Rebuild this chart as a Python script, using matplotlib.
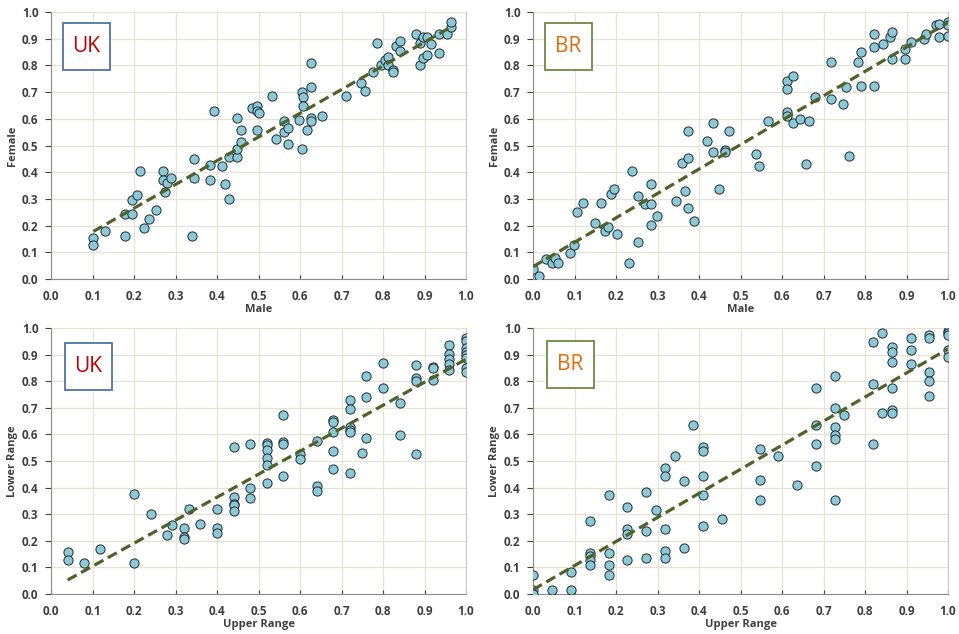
import matplotlib.pyplot as plt
from matplotlib.patches import Rectangle
import numpy as np

# UK: Female vs Male
uk_male = [0.102, 0.102, 0.131, 0.178, 0.179, 0.196, 0.196, 0.206, 0.214, 0.224,
           0.235, 0.252, 0.271, 0.271, 0.280, 0.274, 0.290, 0.340, 0.345, 0.345,
           0.383, 0.383, 0.392, 0.411, 0.420, 0.430, 0.430, 0.448, 0.448, 0.448,
           0.458, 0.458, 0.484, 0.496, 0.496, 0.500, 0.496, 0.533, 0.542, 0.561,
           0.561, 0.570, 0.570, 0.598, 0.604, 0.608, 0.608, 0.604, 0.617, 0.627,
           0.627, 0.627, 0.627, 0.654, 0.711, 0.748, 0.757, 0.776, 0.786, 0.794,
           0.804, 0.813, 0.813, 0.823, 0.823, 0.832, 0.841, 0.841, 0.879, 0.888,
           0.888, 0.897, 0.897, 0.907, 0.907, 0.916, 0.935, 0.935, 0.954, 0.963,
           0.963]
uk_female = [0.154, 0.126, 0.180, 0.161, 0.245, 0.243, 0.296, 0.315, 0.405, 0.190,
             0.225, 0.260, 0.405, 0.369, 0.360, 0.326, 0.378, 0.161, 0.450, 0.378,
             0.426, 0.369, 0.630, 0.423, 0.354, 0.299, 0.458, 0.603, 0.458, 0.486,
             0.558, 0.513, 0.639, 0.648, 0.630, 0.620, 0.558, 0.684, 0.523, 0.593,
             0.549, 0.566, 0.504, 0.594, 0.699, 0.683, 0.648, 0.486, 0.558, 0.809,
             0.720, 0.603, 0.590, 0.611, 0.684, 0.733, 0.703, 0.775, 0.883, 0.801,
             0.819, 0.830, 0.801, 0.783, 0.774, 0.873, 0.890, 0.855, 0.918, 0.883,
             0.801, 0.908, 0.829, 0.908, 0.838, 0.881, 0.918, 0.846, 0.918, 0.944,
             0.963]

# BR: Female vs Male
br_male = [0.000, 0.015, 0.031, 0.045, 0.053, 0.060, 0.090, 0.098, 0.105, 0.120,
           0.149, 0.165, 0.173, 0.180, 0.187, 0.195, 0.202, 0.231, 0.239, 0.254,
           0.254, 0.269, 0.284, 0.284, 0.284, 0.299, 0.344, 0.358, 0.365, 0.373,
           0.373, 0.373, 0.388, 0.418, 0.433, 0.433, 0.447, 0.463, 0.463, 0.471,
           0.537, 0.545, 0.567, 0.612, 0.612, 0.612, 0.612, 0.627, 0.627, 0.643,
           0.657, 0.665, 0.680, 0.717, 0.717, 0.746, 0.754, 0.762, 0.784, 0.791,
           0.791, 0.821, 0.821, 0.821, 0.843, 0.859, 0.866, 0.866, 0.896, 0.896,
           0.911, 0.941, 0.948, 0.970, 0.978, 0.978, 1.000, 1.000, 1.000]
br_female = [0.036, 0.011, 0.074, 0.060, 0.079, 0.060, 0.099, 0.129, 0.249, 0.286,
             0.210, 0.286, 0.179, 0.195, 0.317, 0.336, 0.167, 0.060, 0.405, 0.137,
             0.310, 0.279, 0.355, 0.279, 0.204, 0.236, 0.292, 0.435, 0.328, 0.555,
             0.455, 0.267, 0.217, 0.518, 0.586, 0.474, 0.336, 0.485, 0.474, 0.555,
             0.467, 0.424, 0.591, 0.743, 0.712, 0.624, 0.612, 0.762, 0.586, 0.599,
             0.430, 0.593, 0.680, 0.812, 0.674, 0.655, 0.718, 0.461, 0.812, 0.850,
             0.724, 0.918, 0.868, 0.724, 0.881, 0.906, 0.925, 0.825, 0.862, 0.825,
             0.887, 0.900, 0.918, 0.950, 0.956, 0.906, 0.962, 0.950, 0.912]

# UK: Lower Range vs Upper Range
uk_upper = [0.04, 0.04, 0.08, 0.119, 0.20, 0.20, 0.24, 0.28, 0.291, 0.32,
            0.32, 0.32, 0.332, 0.36, 0.40, 0.40, 0.40, 0.44, 0.44, 0.44,
            0.44, 0.44, 0.48, 0.48, 0.48, 0.52, 0.52, 0.52, 0.52, 0.52,
            0.52, 0.56, 0.56, 0.56, 0.56, 0.60, 0.60, 0.64, 0.64, 0.64,
            0.68, 0.68, 0.68, 0.68, 0.68, 0.72, 0.72, 0.72, 0.72, 0.72,
            0.72, 0.75, 0.76, 0.76, 0.76, 0.80, 0.80, 0.84, 0.84, 0.88,
            0.88, 0.88, 0.88, 0.92, 0.92, 0.92, 0.96, 0.96, 0.96, 0.96,
            0.96, 1.00, 1.00, 1.00, 1.00, 1.00, 1.00, 1.00, 1.00]
uk_lower = [0.156, 0.129, 0.115, 0.170, 0.376, 0.115, 0.300, 0.220, 0.258, 0.248,
            0.213, 0.206, 0.320, 0.263, 0.320, 0.248, 0.230, 0.554, 0.364, 0.340,
            0.333, 0.313, 0.564, 0.398, 0.361, 0.568, 0.560, 0.543, 0.513, 0.485,
            0.418, 0.674, 0.571, 0.563, 0.444, 0.525, 0.508, 0.576, 0.406, 0.388,
            0.653, 0.645, 0.608, 0.536, 0.468, 0.729, 0.695, 0.629, 0.616, 0.608,
            0.454, 0.531, 0.820, 0.740, 0.586, 0.870, 0.774, 0.718, 0.596, 0.861,
            0.811, 0.799, 0.528, 0.853, 0.848, 0.803, 0.935, 0.903, 0.884, 0.866,
            0.841, 0.963, 0.950, 0.925, 0.908, 0.898, 0.888, 0.848, 0.835]

# BR: Lower Range vs Upper Range
br_upper = [0.000, 0.000, 0.000, 0.046, 0.091, 0.091, 0.137, 0.137, 0.137, 0.137,
            0.137, 0.182, 0.182, 0.182, 0.182, 0.227, 0.227, 0.227, 0.227, 0.273,
            0.273, 0.273, 0.296, 0.318, 0.318, 0.318, 0.318, 0.318, 0.341, 0.364,
            0.364, 0.386, 0.409, 0.409, 0.409, 0.409, 0.409, 0.455, 0.546, 0.546,
            0.546, 0.591, 0.636, 0.682, 0.682, 0.682, 0.682, 0.728, 0.728, 0.728,
            0.728, 0.728, 0.728, 0.750, 0.819, 0.819, 0.819, 0.842, 0.842, 0.864,
            0.864, 0.864, 0.864, 0.864, 0.864, 0.910, 0.910, 0.910, 0.955, 0.955,
            0.955, 0.955, 0.955, 1.000, 1.000, 1.000, 1.000, 1.000]
br_lower = [0.071, 0.016, 0.000, 0.016, 0.081, 0.016, 0.273, 0.154, 0.144, 0.127,
            0.108, 0.372, 0.154, 0.108, 0.071, 0.327, 0.246, 0.227, 0.127, 0.382,
            0.236, 0.135, 0.317, 0.472, 0.445, 0.246, 0.163, 0.135, 0.518, 0.426,
            0.172, 0.635, 0.554, 0.536, 0.445, 0.372, 0.254, 0.282, 0.545, 0.427,
            0.355, 0.518, 0.409, 0.773, 0.635, 0.564, 0.482, 0.818, 0.700, 0.627,
            0.599, 0.581, 0.355, 0.673, 0.946, 0.791, 0.564, 0.981, 0.682, 0.927,
            0.910, 0.872, 0.773, 0.690, 0.682, 0.964, 0.918, 0.863, 0.972, 0.964,
            0.836, 0.800, 0.746, 0.990, 0.981, 0.972, 0.918, 0.891]

panels = [
    (uk_male, uk_female, 'Male', 'Female', 'UK'),
    (br_male, br_female, 'Male', 'Female', 'BR'),
    (uk_upper, uk_lower, 'Upper Range', 'Lower Range', 'UK'),
    (br_upper, br_lower, 'Upper Range', 'Lower Range', 'BR'),
]
label_colors = {'UK': ('#C00000', '#4F74A8'), 'BR': ('#E46C0A', '#6E8A3E')}

# axes rectangles in figure fraction (left, bottom, width, height)
rects = [(0.0532, 0.560, 0.4328, 0.421),
         (0.5558, 0.560, 0.4328, 0.421),
         (0.0532, 0.0631, 0.4328, 0.4196),
         (0.5558, 0.0631, 0.4328, 0.4196)]
box_pos = [(0.029, 0.783), (0.029, 0.783), (0.034, 0.766), (0.034, 0.776)]

plt.rcParams['font.family'] = ['Open Sans', 'DejaVu Sans']
fig = plt.figure(figsize=(9.59, 6.34), dpi=100)

for (x, y, xl, yl, name), r, bp in zip(panels, rects, box_pos):
    ax = fig.add_axes(r)
    x = np.array(x)
    y = np.array(y)
    ax.grid(True, color='#E4E4D2', linewidth=0.9, zorder=0)
    ax.set_axisbelow(True)
    ax.scatter(x, y, s=44, facecolor='#8CC8D6', edgecolor='#1F2F33',
               linewidth=0.7, zorder=3)
    # linear trend line over the data range
    k, b = np.polyfit(x, y, 1)
    xs = np.array([x.min(), x.max()])
    ax.plot(xs, k * xs + b, '--', color='#4F6228', linewidth=2.3,
            dashes=(3.2, 1.6), zorder=4)
    ax.set_xlim(0, 1)
    ax.set_ylim(0, 1)
    ticks = np.arange(0, 1.01, 0.1)
    ax.set_xticks(ticks)
    ax.set_yticks(ticks)
    ax.set_xticklabels(['%.1f' % v for v in ticks])
    ax.set_yticklabels(['%.1f' % v for v in ticks])
    ax.tick_params(labelsize=8.5, colors='#404040', width=0.8)
    ax.tick_params(axis='y', length=4, pad=5)
    ax.tick_params(axis='x', direction='in', length=3, pad=8)
    for lab in ax.get_xticklabels() + ax.get_yticklabels():
        lab.set_fontweight('bold')
    ax.spines['top'].set_visible(False)
    ax.spines['left'].set_color('#8C8C8C')
    ax.spines['bottom'].set_color('#8C8C8C')
    ax.spines['right'].set_color('#C8C8C8')
    ax.set_xlabel(xl, fontsize=8, fontweight='bold', color='#404040',
                  labelpad=1)
    ax.set_ylabel(yl, fontsize=8, fontweight='bold', color='#404040',
                  labelpad=3)
    tc, ec = label_colors[name]
    ax.add_patch(Rectangle(bp, 0.113, 0.176, transform=ax.transAxes,
                           facecolor='white', edgecolor=ec, linewidth=1.3,
                           zorder=5))
    ax.text(bp[0] + 0.0565, bp[1] + 0.088, name, transform=ax.transAxes,
            ha='center', va='center', fontsize=15, color=tc, zorder=6)

fig.savefig('out.png', dpi=100)
